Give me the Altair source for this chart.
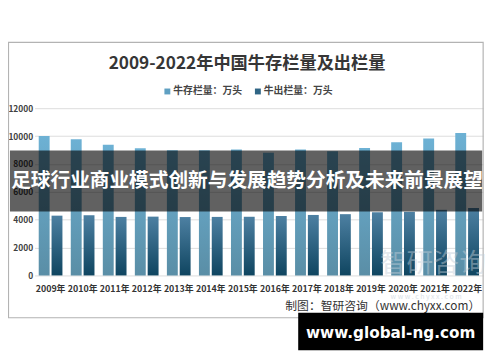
import altair as alt
import pandas as pd

years = ["2009年", "2010年", "2011年", "2012年", "2013年", "2014年", "2015年",
         "2016年", "2017年", "2018年", "2019年", "2020年", "2021年", "2022年"]
stock = [10010, 9780, 9380, 9120, 8985, 8985, 9030, 8810, 9040, 8915, 9140, 9560, 9820, 10215]
outp = [4290, 4320, 4200, 4220, 4190, 4200, 4210, 4265, 4340, 4397, 4534, 4565, 4707, 4840]

series_names = ["牛存栏量：万头", "牛出栏量：万头"]

rows = []
for y, s, o in zip(years, stock, outp):
    rows.append({"year": y, "series": series_names[0], "value": s})
    rows.append({"year": y, "series": series_names[1], "value": o})
df = pd.DataFrame(rows)

FONT = "Noto Sans CJK SC"
W, H = 456, 170

grad_stock = alt.Gradient(gradient="linear", x1=0, x2=0, y1=0, y2=1,
                          stops=[alt.GradientStop(color="#6db1d4", offset=0),
                                 alt.GradientStop(color="#5a8ea6", offset=1)])
grad_out = alt.Gradient(gradient="linear", x1=0, x2=0, y1=0, y2=1,
                        stops=[alt.GradientStop(color="#4d80a2", offset=0),
                               alt.GradientStop(color="#0f4560", offset=1)])

xenc = alt.X("year:N", sort=years, title=None,
             scale=alt.Scale(paddingInner=0.26, paddingOuter=0.13),
             axis=alt.Axis(labelAngle=0, labelFont=FONT, labelFontSize=9, labelFontWeight="bold",
                           labelColor="#333333", labelPadding=9, domain=False, ticks=False))
yenc = alt.Y("value:Q", title=None,
             scale=alt.Scale(domain=[0, 12000]),
             axis=alt.Axis(values=[0, 2000, 4000, 6000, 8000, 10000, 12000], format="d",
                           labelFont=FONT, labelFontSize=8.5, labelFontWeight="bold",
                           labelColor="#404040", labelPadding=2, domain=False, ticks=False,
                           gridColor="#dcdcdc"))
xoff = alt.XOffset("series:N", sort=series_names,
                   scale=alt.Scale(domain=series_names, paddingInner=0.15))

base = alt.Chart(df)
bars1 = base.transform_filter(alt.datum.series == series_names[0]).mark_bar(color=grad_stock).encode(
    x=xenc, y=yenc, xOffset=xoff)
bars2 = base.transform_filter(alt.datum.series == series_names[1]).mark_bar(color=grad_out).encode(
    x=xenc, y=yenc, xOffset=xoff)

one = alt.InlineData(values=[{"k": 0}])


def txt(s, x, y, size, color, weight="normal", align="center", font=FONT, opacity=1):
    return alt.Chart(one).mark_text(fontSize=size, font=font, fontWeight=weight, color=color,
                                    align=align, baseline="middle", opacity=opacity).encode(
        x=alt.value(x), y=alt.value(y), text=alt.value(s))


def box(x, x2, y, y2, **kw):
    return alt.Chart(one).mark_rect(**kw).encode(
        x=alt.value(x), x2=alt.value(x2), y=alt.value(y), y2=alt.value(y2))


frame = box(-26.5, 456, -67, 213, fillOpacity=0, stroke="#b3b3b3", strokeWidth=1.2)
title = txt("2009-2022年中国牛存栏量及出栏量", 216, -45, 17.5, "#363636", weight="bold")
sq1 = box(132, 138, -20, -14, color="#5fa0c2")
lg1 = txt(series_names[0], 141, -17, 10, "#444444", weight="bold", align="left")
sq2 = box(224, 230, -20, -14, color="#2f6585")
lg2 = txt(series_names[1], 233, -17, 10, "#444444", weight="bold", align="left")

wm1 = txt("智研咨询", 405, 158, 27, "#c3ced8", opacity=0.45)
wm2 = txt("w w w . c h y x x . c o m", 398, 192, 7, "#c3ced8", opacity=0.6)

banner = box(-25, 455, 43, 105, color="#000000", opacity=0.62)
banner_txt = txt("足球行业商业模式创新与发展趋势分析及未来前景展望", 216, 74.5, 20, "#ffffff", weight="bold")
source = txt("制图：智研咨询（www.chyxx.com）", 453, 201.5, 12, "#333333", align="right")
blk = box(268, 456, 208, 246, color="#000000")
blk_txt = txt("www.global-ng.com", 362, 229, 15.5, "#ffffff", weight="bold", font="DejaVu Sans")

chart = alt.layer(frame, bars1, bars2, title, sq1, lg1, sq2, lg2, wm1, wm2,
                  banner, banner_txt, source, blk, blk_txt).properties(
    width=W, height=H,
    autosize=alt.AutoSizeParams(type="none"),
    padding={"left": 27, "top": 99, "right": 9, "bottom": 77},
    background="#ffffff",
).configure_view(stroke=None)

chart.save("out.html", embed_options={"renderer": "svg", "actions": False})
